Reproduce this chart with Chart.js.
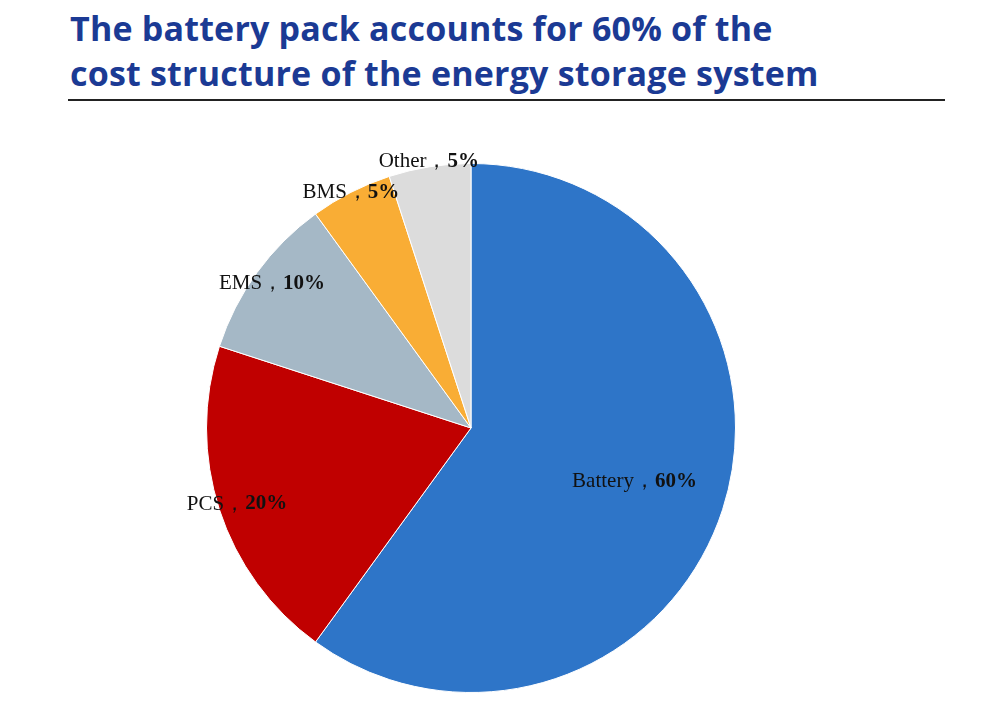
<!DOCTYPE html>
<html><head><meta charset="utf-8">
<script src="https://cdn.jsdelivr.net/npm/chart.js@4"></script>
<style>
body{margin:0;width:1000px;height:703px;background:#fff;position:relative;overflow:hidden}
#t{position:absolute;left:70px;top:6px;font:bold 34px "Open Sans",sans-serif;color:#1b3a94;line-height:45px;letter-spacing:0.2px}
#rule{position:absolute;left:68px;top:99px;width:877px;height:2px;background:#222}
#c{position:absolute;left:0;top:0}
</style></head><body>
<div id="t">The battery pack accounts for 60% of the<br>cost structure of the energy storage system</div>
<div id="rule"></div>
<canvas id="c" width="1000" height="703"></canvas>
<script>
const categories=["Battery","PCS","EMS","BMS","Other"];
const values=[60,20,10,5,5];
const colors=["#2e75c8","#c00000","#a5b8c6","#f9ad35","#dcdcdc"];
const radial=[0.65,0.93,0.93,1.0,1.02];
const labelPlugin={id:'lbl',afterDatasetsDraw(chart){
  const ctx=chart.ctx;const meta=chart.getDatasetMeta(0);
  meta.data.forEach((arc,i)=>{
    const mid=(arc.startAngle+arc.endAngle)/2;const r=arc.outerRadius*radial[i];
    const x=arc.x+Math.cos(mid)*r,y=arc.y+Math.sin(mid)*r;
    const a=categories[i]+"，",b=values[i]+"%";
    ctx.save();ctx.textBaseline='middle';ctx.fillStyle='#111';
    ctx.font='21px "Liberation Serif",serif';const wa=ctx.measureText(a).width;
    ctx.font='bold 21px "Liberation Serif",serif';const wb=ctx.measureText(b).width;
    const x0=x-(wa+wb)/2;
    ctx.font='21px "Liberation Serif",serif';ctx.fillText(a,x0,y);
    ctx.font='bold 21px "Liberation Serif",serif';ctx.fillText(b,x0+wa,y);
    ctx.restore();
  });}};
new Chart(document.getElementById('c'),{type:'pie',
 data:{labels:categories,datasets:[{data:values,backgroundColor:colors,borderColor:'#fff',borderWidth:1}]},
 options:{responsive:false,animation:false,layout:{padding:{top:163,bottom:10,left:206,right:264}},
  plugins:{legend:{display:false},tooltip:{enabled:false}}},
 plugins:[labelPlugin]});
</script></body></html>
